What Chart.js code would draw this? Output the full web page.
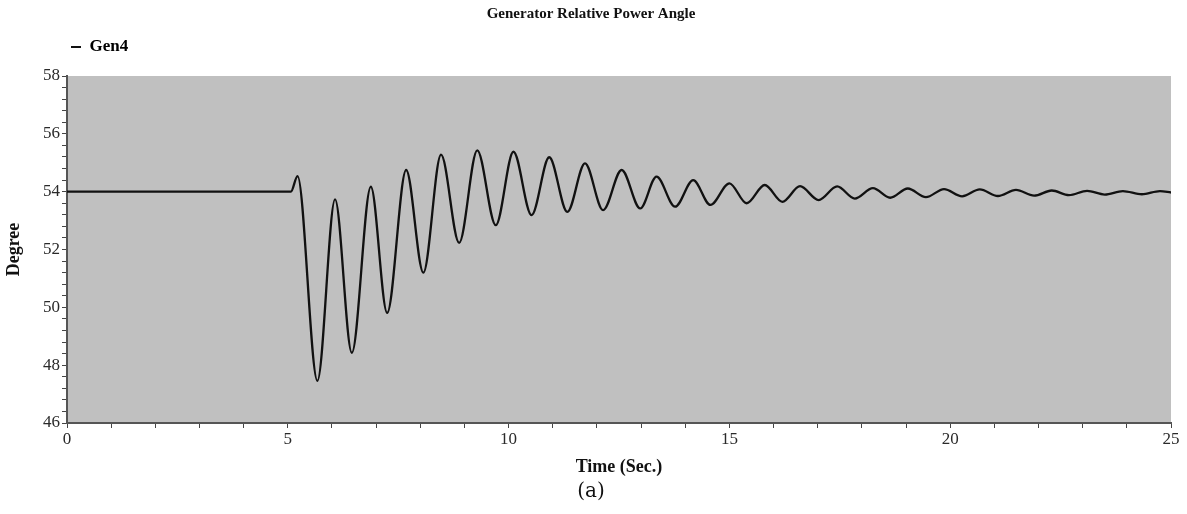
<!DOCTYPE html>
<html>
<head>
<meta charset="utf-8">
<script src="https://cdn.jsdelivr.net/npm/chart.js@4.4.1/dist/chart.umd.min.js"></script>
<style>
  html, body { margin: 0; padding: 0; background: #ffffff; }
  #wrap { width: 1187px; height: 514px; position: relative; }
</style>
</head>
<body>
<div id="wrap"><canvas id="c" width="1187" height="514"></canvas></div>
<script>
// ---- Data ----
const chartTitle = "Generator Relative Power Angle";
const seriesName = "Gen4";
const xAxisTitle = "Time (Sec.)";
const yAxisTitle = "Degree";
const captionText = "(a)";

// time (s) of each read-off point (flat start, then successive peaks / troughs)
const times = [0, 5.07, 5.22, 5.67, 6.07, 6.45, 6.88, 7.25, 7.68, 8.07,
  8.47, 8.88, 9.29, 9.71, 10.11, 10.52, 10.92, 11.33, 11.73, 12.14,
  12.56, 12.98, 13.35, 13.77, 14.18, 14.57, 15.0, 15.39, 15.8, 16.2,
  16.6, 17.02, 17.44, 17.84, 18.25, 18.64, 19.04, 19.45, 19.86, 20.27,
  20.67, 21.08, 21.49, 21.9, 22.3, 22.69, 23.1, 23.5, 23.91, 24.34,
  24.75, 25.0];
// power angle (degree) at those times
const angles = [54.0, 54.0, 54.54, 47.46, 53.73, 48.43, 54.17, 49.81, 54.75, 51.2,
  55.28, 52.23, 55.43, 52.84, 55.38, 53.19, 55.19, 53.3, 54.98, 53.36,
  54.75, 53.42, 54.52, 53.48, 54.4, 53.54, 54.29, 53.6, 54.23, 53.65,
  54.19, 53.71, 54.18, 53.76, 54.12, 53.79, 54.11, 53.81, 54.09, 53.84,
  54.08, 53.85, 54.06, 53.86, 54.04, 53.88, 54.03, 53.9, 54.02, 53.91,
  54.02, 53.97];

// axis ranges / tick steps
const xMin = 0, xMax = 25, xMinorStep = 1, xLabelEvery = 5;
const yMin = 46, yMax = 58, yMinorStep = 0.4, yLabelEvery = 2;

const points = times.map((t, i) => ({ x: t, y: angles[i] }));

const serif = "'Liberation Serif', 'Times New Roman', serif";

const plotBg = {
  id: 'plotBg',
  beforeDraw(chart) {
    const { ctx, chartArea: a } = chart;
    ctx.save();
    ctx.fillStyle = '#c0c0c0';
    ctx.fillRect(a.left, a.top, a.right - a.left, a.bottom - a.top);
    ctx.restore();
  }
};

const legendPlace = {
  id: 'legendPlace',
  afterLayout(chart) {
    const lg = chart.legend;
    if (!lg) return;
    const dx = 61 - lg.left;
    lg.left += dx; lg.right += dx;
    const dy = -10.5;
    lg.top += dy; lg.bottom += dy;
  }
};

new Chart(document.getElementById('c'), {
  type: 'line',
  data: {
    datasets: [{
      label: seriesName,
      data: points,
      borderColor: '#111111',
      backgroundColor: '#111111',
      borderWidth: 2.3,
      pointRadius: 0,
      cubicInterpolationMode: 'monotone',
      fill: false
    }]
  },
  options: {
    responsive: false,
    animation: false,
    layout: { padding: { left: 11, right: 16, top: 0, bottom: 0 } },
    plugins: {
      title: {
        display: true,
        text: chartTitle,
        color: '#111',
        font: { family: serif, size: 15, weight: 'bold' },
        padding: { top: 5, bottom: 16 }
      },
      subtitle: {
        display: true,
        text: captionText,
        position: 'bottom',
        color: '#111',
        font: { family: "'DejaVu Serif', serif", size: 20, weight: 'normal' },
        padding: { top: 0, bottom: 10 }
      },
      legend: {
        display: true,
        position: 'top',
        align: 'start',
        labels: {
          color: '#111',
          font: { family: serif, size: 17, weight: 'bold' },
          boxWidth: 10,
          boxHeight: 2,
          padding: 10,
          generateLabels(chart) {
            return chart.data.datasets.map((ds, i) => ({
              text: ds.label, fillStyle: '#111', strokeStyle: '#111',
              lineWidth: 0, datasetIndex: i, hidden: false
            }));
          }
        }
      },
      tooltip: { enabled: false }
    },
    scales: {
      x: {
        type: 'linear',
        min: xMin, max: xMax,
        afterFit(s) { s.height = 57; },
        border: { display: true, color: '#555', width: 2 },
        grid: { drawOnChartArea: false, drawTicks: true, tickLength: 5, tickColor: '#444', tickWidth: 1 },
        ticks: {
          stepSize: xMinorStep,
          autoSkip: false,
          maxRotation: 0,
          padding: 1,
          color: '#2a2a2a',
          font: { family: serif, size: 17 },
          callback(v) {
            const r = Math.round(v);
            return (Math.abs(v - r) < 1e-6 && r % xLabelEvery === 0) ? String(r) : '';
          }
        },
        title: {
          display: true,
          text: xAxisTitle,
          color: '#111',
          font: { family: serif, size: 18, weight: 'bold' },
          padding: { top: 0, bottom: 2.2 }
        }
      },
      y: {
        type: 'linear',
        min: yMin, max: yMax,
        afterFit(s) { s.width = 56; },
        border: { display: true, color: '#555', width: 2 },
        grid: { drawOnChartArea: false, drawTicks: true, tickLength: 5, tickColor: '#444', tickWidth: 1 },
        ticks: {
          stepSize: yMinorStep,
          autoSkip: false,
          padding: 2,
          color: '#2a2a2a',
          font: { family: serif, size: 17 },
          callback(v) {
            const r = Math.round(v);
            return (Math.abs(v - r) < 1e-6 && r % yLabelEvery === 0) ? String(r) : '';
          }
        },
        title: {
          display: true,
          text: yAxisTitle,
          color: '#111',
          font: { family: serif, size: 18, weight: 'bold', lineHeight: 0.35 },
          padding: { top: 0, bottom: 0 }
        }
      }
    }
  },
  plugins: [plotBg, legendPlace]
});
</script>
</body>
</html>
